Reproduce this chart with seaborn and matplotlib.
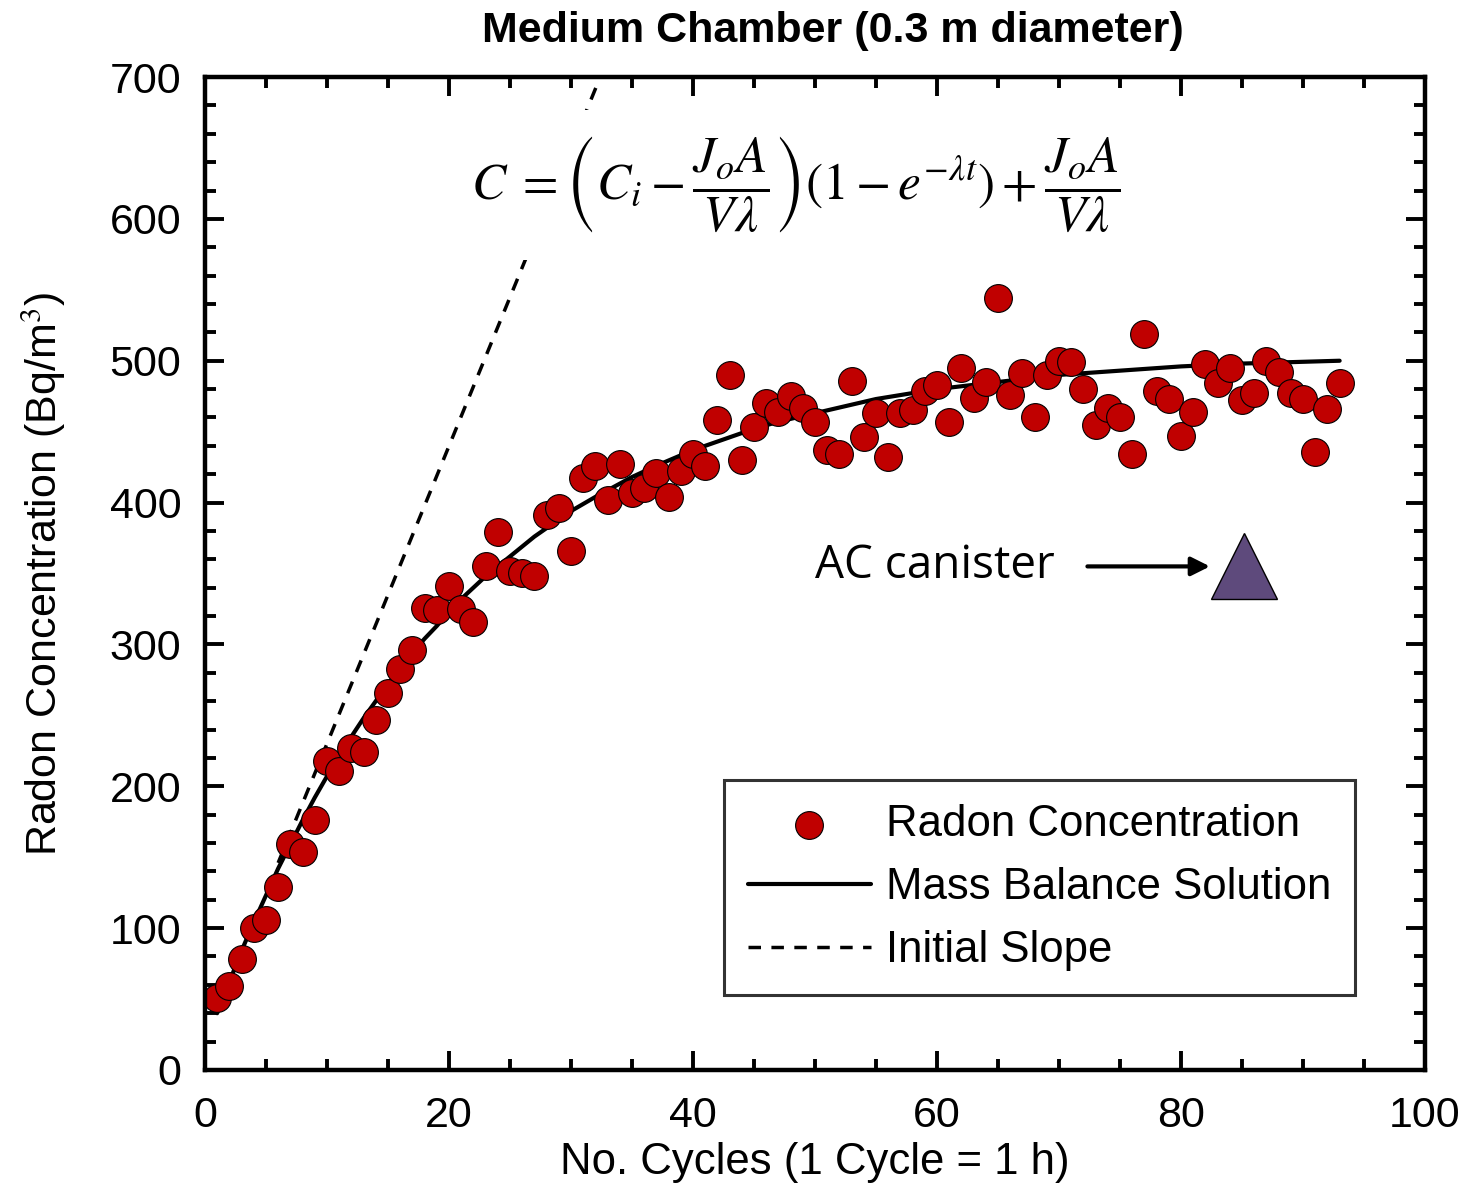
import numpy as np
import pandas as pd
import matplotlib
matplotlib.use('Agg')
import matplotlib.pyplot as plt
import seaborn as sns

sns.set_style('white')
plt.rcParams['font.family'] = ['Liberation Sans', 'DejaVu Sans']
plt.rcParams['mathtext.fontset'] = 'stix'
plt.rcParams['text.color'] = 'black'
plt.rcParams['axes.labelcolor'] = 'black'
plt.rcParams['xtick.color'] = 'black'
plt.rcParams['ytick.color'] = 'black'

# measured radon concentration, one point per cycle
cycles = list(range(1, 94))
radon = [51, 59, 78, 100, 106, 129, 159, 154, 176, 218,
         211, 227, 224, 247, 266, 283, 296, 326, 324, 341,
         325, 316, 355, 379, 352, 350, 348, 391, 396, 366,
         417, 426, 402, 427, 407, 410, 421, 404, 422, 434,
         426, 458, 490, 430, 453, 470, 464, 475, 467, 457,
         437, 434, 486, 446, 463, 432, 463, 465, 479, 483,
         457, 495, 474, 485, 544, 476, 491, 460, 490, 500,
         499, 480, 455, 467, 460, 434, 519, 479, 473, 447,
         464, 498, 484, 495, 472, 477, 500, 492, 477, 473,
         436, 466, 484]

# mass balance solution
fit_t = [1, 2, 3, 4, 5, 6, 7, 8, 9, 10, 11, 12, 13, 14, 15, 16, 17, 18,
         19, 20, 21, 22, 23, 24, 27, 30, 32, 35, 37, 40, 42, 45, 47, 50,
         55, 60, 65, 70, 75, 80, 85, 93]
fit_c = [40, 62, 84, 104, 123, 142, 159, 176, 192, 207, 221, 235, 248, 260,
         272, 283, 294, 304, 313, 323, 332, 340, 348, 355, 376, 394, 404,
         418, 426, 437, 443, 452, 457, 463, 473, 480, 485, 490, 493, 496,
         498, 500]

# initial slope line end points
slope_t = [6, 32.4]
slope_c = [146, 700]

# AC canister result
ac_t = [85.2]
ac_c = [355]

df = pd.DataFrame({'cycle': cycles, 'radon': radon})
fit = pd.DataFrame({'t': fit_t, 'c': fit_c})
slope = pd.DataFrame({'t': slope_t, 'c': slope_c})

fig = plt.figure(figsize=(14.67, 11.87), dpi=100)
ax = fig.add_axes([0.1397, 0.0986, 0.8317, 0.8365])

sns.lineplot(data=slope, x='t', y='c', ax=ax, color='black', lw=2.5,
             dashes=False, linestyle=(0, (3.6, 3.0)), label='Initial Slope',
             zorder=2)
sns.lineplot(data=fit, x='t', y='c', ax=ax, color='black', lw=3,
             label='Mass Balance Solution', zorder=3)
sns.scatterplot(data=df, x='cycle', y='radon', ax=ax, s=400,
                color='#C00000', edgecolor='black', linewidth=0.8,
                label='Radon Concentration', zorder=4)
ax.plot(ac_t, ac_c, marker='^', ms=47, color='#5E4A7C', mec='black',
        mew=1, ls='none', zorder=5)

ax.annotate('', xy=(82.6, 355), xytext=(72.1, 355),
            arrowprops=dict(arrowstyle='-|>', color='black', lw=3,
                            mutation_scale=28))
ax.text(59.8, 355, 'AC canister', fontsize=33,
        family=['Open Sans', 'DejaVu Sans'], ha='center', va='center')

# equation sits on a white box that hides the slope line behind it
ax.text(48.4, 624,
        r'$C\;=\left(C_i-\dfrac{J_oA}{V\lambda}\right)(1-e^{-\lambda t})+\dfrac{J_oA}{V\lambda}$',
        fontsize=37, ha='center', va='center', zorder=6,
        bbox=dict(facecolor='white', edgecolor='none', pad=18))

ax.set_xlim(0, 100)
ax.set_ylim(0, 700)
ax.set_xticks(np.arange(0, 101, 20))
ax.set_yticks(np.arange(0, 701, 100))
ax.set_xticks(np.arange(0, 101, 5), minor=True)
ax.set_yticks(np.arange(0, 701, 20), minor=True)
ax.tick_params(which='both', direction='in', top=True, right=True,
               bottom=True, left=True, labelsize=31, width=2.8)
ax.tick_params(which='major', length=14)
ax.tick_params(which='minor', length=8)
ax.tick_params(axis='x', which='major', pad=19)
ax.tick_params(axis='y', which='major', pad=17)
for sp in ax.spines.values():
    sp.set_linewidth(3.2)
    sp.set_color('black')
    sp.set_zorder(7)

ax.set_xlabel('No. Cycles (1 Cycle = 1 h)', fontsize=31.5, labelpad=4)
ax.set_ylabel('Radon Concentration (Bq/m$^3$)', fontsize=31, labelpad=30)
ax.set_title('Medium Chamber (0.3 m diameter)', fontsize=31,
             fontweight='bold', pad=25, x=0.515)

h, l = ax.get_legend_handles_labels()
order = [2, 1, 0]
leg = ax.legend([h[i] for i in order], [l[i] for i in order],
                loc='lower right', bbox_to_anchor=(0.943, 0.0755),
                fontsize=31.5, frameon=True, fancybox=False, edgecolor='black',
                handlelength=2.8, handletextpad=0.35, labelspacing=0.5,
                borderpad=0.55, borderaxespad=0, markerscale=1)
leg.get_frame().set_linewidth(2.2)

fig.savefig('out.png', dpi=100)
